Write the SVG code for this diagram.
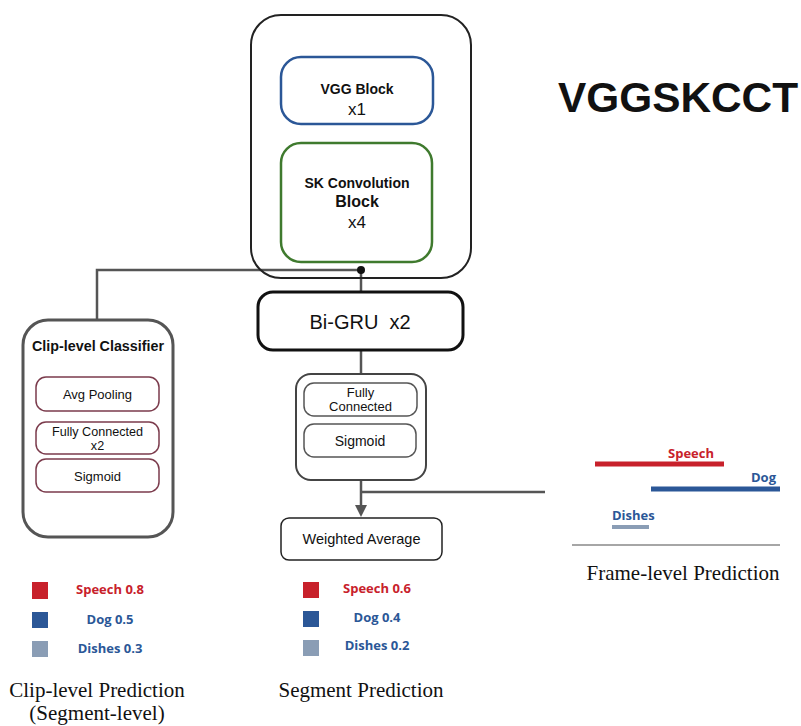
<svg xmlns="http://www.w3.org/2000/svg" width="801" height="726" viewBox="0 0 801 726">
  <style>
    .sans { font-family: "Liberation Sans", Arial, sans-serif; fill: #111; }
    .bold { font-weight: bold; }
    .serif { font-family: "Liberation Serif", "Times New Roman", serif; font-size: 21px; fill: #111; }
    .lab { font-family: "Open Sans", "Noto Sans", sans-serif; font-weight: bold; font-size: 13px; }
    .red { fill: #c8212b; }
    .blue { fill: #2b5797; }
    .wire { fill: none; stroke: #555; stroke-width: 2.5; }
    .sub { fill: #fff; stroke: #7b3b4c; stroke-width: 1.5; }
    .inner { fill: #fff; stroke: #555; stroke-width: 1.5; }
  </style>
  <rect width="801" height="726" fill="#fff"/>

  <!-- connectors -->
  <g id="connectors">
    <path class="wire" d="M361,270 H97 V320"/>
    <path class="wire" d="M361,270 V292"/>
    <path class="wire" d="M361,350 V374"/>
    <path class="wire" d="M361,480 V506"/>
    <path d="M355,505 L367,505 L361,517 Z" fill="#555"/>
    <path class="wire" d="M361,492 H545"/>
    <circle cx="361" cy="270" r="4" fill="#111"/>
  </g>

  <!-- encoder: VGG + SK convolution -->
  <g id="encoder">
    <rect x="251" y="15" width="220" height="263" rx="30" fill="none" stroke="#222" stroke-width="2"/>
    <g id="vgg">
      <rect x="281" y="57" width="152" height="67" rx="20" fill="#fff" stroke="#2b5797" stroke-width="2.5"/>
      <text class="sans bold" x="357" y="94" font-size="14" text-anchor="middle">VGG Block</text>
      <text class="sans" x="357" y="115" font-size="17" text-anchor="middle">x1</text>
    </g>
    <g id="sk">
      <rect x="281" y="143" width="151" height="119" rx="20" fill="#fff" stroke="#3f7a2e" stroke-width="2.5"/>
      <text class="sans bold" x="357" y="188" font-size="14" text-anchor="middle">SK Convolution</text>
      <text class="sans bold" x="357" y="207" font-size="16" text-anchor="middle">Block</text>
      <text class="sans" x="357" y="228" font-size="17" text-anchor="middle">x4</text>
    </g>
  </g>

  <!-- title -->
  <text class="sans bold" x="558" y="112" font-size="42" textLength="240" lengthAdjust="spacingAndGlyphs" fill="#000">VGGSKCCT</text>

  <!-- clip-level classifier -->
  <g id="clip-classifier">
    <rect x="23" y="320" width="150" height="217" rx="25" fill="#fff" stroke="#555" stroke-width="3"/>
    <text class="sans bold" x="98" y="351" font-size="14.3" text-anchor="middle">Clip-level Classifier</text>
    <rect class="sub" x="36" y="377" width="123" height="34" rx="10"/>
    <text class="sans" x="97.5" y="399" font-size="13" text-anchor="middle">Avg Pooling</text>
    <rect class="sub" x="36" y="422" width="123" height="32" rx="10"/>
    <text class="sans" x="97.5" y="436" font-size="12.6" text-anchor="middle">Fully Connected</text>
    <text class="sans" x="97.5" y="450" font-size="12.6" text-anchor="middle">x2</text>
    <rect class="sub" x="36" y="459" width="123" height="33" rx="10"/>
    <text class="sans" x="97.5" y="481" font-size="13" text-anchor="middle">Sigmoid</text>
  </g>

  <!-- recurrent layer -->
  <g id="bigru">
    <rect x="258" y="292" width="205" height="58" rx="15" fill="#fff" stroke="#111" stroke-width="3"/>
    <text class="sans" x="360" y="329" font-size="20" text-anchor="middle" xml:space="preserve">Bi-GRU  x2</text>
  </g>

  <!-- frame-level head -->
  <g id="frame-head">
    <rect x="296" y="374" width="130" height="106" rx="15" fill="#fff" stroke="#444" stroke-width="2"/>
    <rect class="inner" x="304" y="383" width="113" height="33" rx="10"/>
    <text class="sans" x="360.5" y="397" font-size="13" text-anchor="middle">Fully</text>
    <text class="sans" x="360.5" y="411" font-size="13" text-anchor="middle">Connected</text>
    <rect class="inner" x="304" y="424" width="112" height="33" rx="10"/>
    <text class="sans" x="360" y="446" font-size="14" text-anchor="middle">Sigmoid</text>
  </g>

  <!-- pooling -->
  <g id="weighted-average">
    <rect x="281" y="518" width="161" height="42" rx="8" fill="#fff" stroke="#222" stroke-width="1.5"/>
    <text class="sans" x="361.5" y="544" font-size="14.5" text-anchor="middle">Weighted Average</text>
  </g>

  <!-- frame-level prediction -->
  <g id="frame-prediction">
    <line x1="595" y1="464" x2="724" y2="464" stroke="#c8212b" stroke-width="5"/>
    <text class="lab red" x="691" y="458" text-anchor="middle">Speech</text>
    <line x1="651" y1="489" x2="780" y2="489" stroke="#2b5797" stroke-width="5"/>
    <text class="lab blue" x="776" y="482" text-anchor="end">Dog</text>
    <line x1="612" y1="527" x2="649" y2="527" stroke="#8a9db5" stroke-width="4"/>
    <text class="lab blue" x="612" y="520">Dishes</text>
    <line x1="572" y1="545" x2="780" y2="545" stroke="#888" stroke-width="1.5"/>
    <text class="serif" x="683" y="580" text-anchor="middle">Frame-level Prediction</text>
  </g>

  <!-- clip-level prediction -->
  <g id="clip-prediction">
    <rect x="32" y="582" width="16" height="17" fill="#c8212b"/>
    <rect x="32" y="612" width="16" height="16" fill="#2b5797"/>
    <rect x="32" y="641" width="16" height="16" fill="#8a9db5"/>
    <text class="lab red" x="110" y="594" text-anchor="middle">Speech 0.8</text>
    <text class="lab blue" x="110" y="624" text-anchor="middle">Dog 0.5</text>
    <text class="lab blue" x="110" y="653" text-anchor="middle">Dishes 0.3</text>
    <text class="serif" x="97" y="697" text-anchor="middle">Clip-level Prediction</text>
    <text class="serif" x="97" y="720" text-anchor="middle">(Segment-level)</text>
  </g>

  <!-- segment prediction -->
  <g id="segment-prediction">
    <rect x="303" y="582" width="16" height="16" fill="#c8212b"/>
    <rect x="303" y="611" width="16" height="16" fill="#2b5797"/>
    <rect x="303" y="640" width="16" height="16" fill="#8a9db5"/>
    <text class="lab red" x="377" y="593" text-anchor="middle">Speech 0.6</text>
    <text class="lab blue" x="377" y="622" text-anchor="middle">Dog 0.4</text>
    <text class="lab blue" x="377" y="650" text-anchor="middle">Dishes 0.2</text>
    <text class="serif" x="361" y="697" text-anchor="middle">Segment Prediction</text>
  </g>
</svg>
